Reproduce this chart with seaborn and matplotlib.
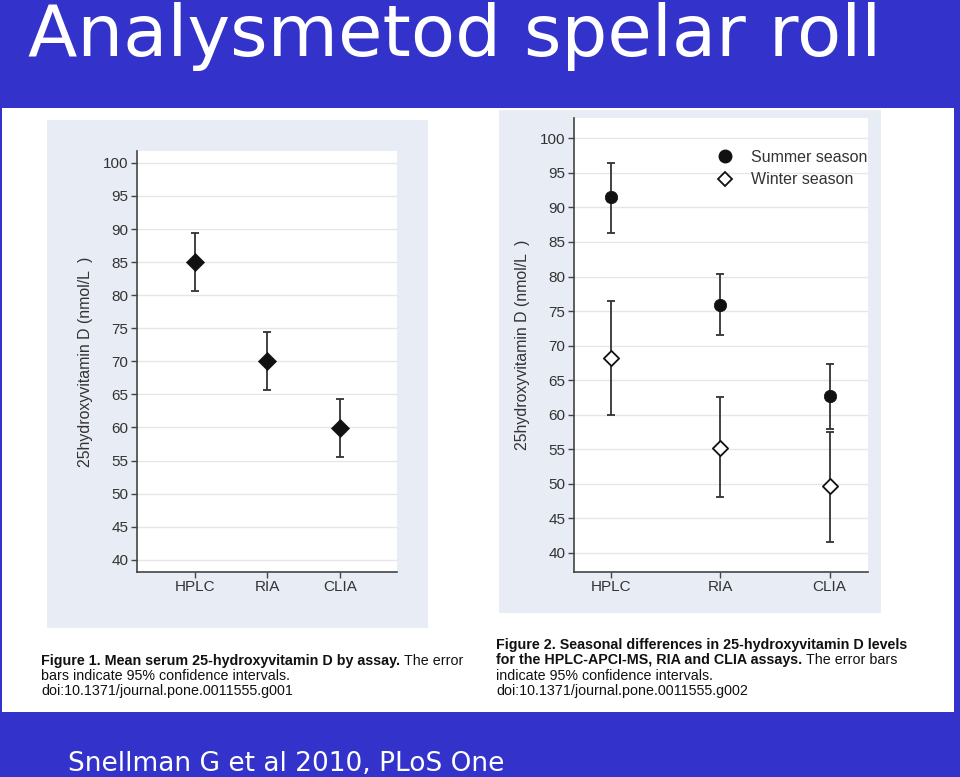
import matplotlib
matplotlib.use("Agg")
import matplotlib.pyplot as plt
from matplotlib import font_manager
from matplotlib.lines import Line2D
from matplotlib.patches import Rectangle
import seaborn as sns
import pandas as pd

# ---------------- data ----------------
assays = ["HPLC", "RIA", "CLIA"]
mean_all = [85.0, 70.0, 59.9]
ci_low_all = [80.6, 65.7, 55.5]
ci_high_all = [89.4, 74.4, 64.3]

summer_mean = [91.5, 75.9, 62.7]
summer_low = [86.3, 71.5, 57.9]
summer_high = [96.4, 80.3, 67.4]

winter_mean = [68.2, 55.1, 49.6]
winter_low = [60.0, 48.0, 41.5]
winter_high = [76.4, 62.5, 57.5]

y_ticks = [40, 45, 50, 55, 60, 65, 70, 75, 80, 85, 90, 95, 100]
ylabel = "25hydroxyvitamin D (nmol/L  )"
title = "Analysmetod spelar roll"
footer = "Snellman G et al 2010, PLoS One"

# ---------------- styling ----------------
sns.set_style("white")
names = {f.name for f in font_manager.fontManager.ttflist}
base_font = "Liberation Sans" if "Liberation Sans" in names else "DejaVu Sans"
narrow_font = "Liberation Sans Narrow" if "Liberation Sans Narrow" in names else base_font
plt.rcParams["font.family"] = [base_font, "DejaVu Sans"]

BLUE = "#3333cc"
PANEL = "#e8ecf4"
TXT = "#333333"
SPINE = "#444444"
GRID = "#e6e6e6"

W, H = 960, 777
fig = plt.figure(figsize=(W / 100, H / 100), dpi=100, facecolor=BLUE)


def fx(px):
    return px / W


def fy(py):
    return 1 - py / H


# white slide panel
fig.patches.append(Rectangle((fx(2), fy(712)), fx(954 - 2), (712 - 108) / H,
                             transform=fig.transFigure, facecolor="white",
                             edgecolor="none", zorder=-3))
# figure backgrounds
for (x0, y0, x1, y1) in [(47, 120, 428, 628), (499, 110, 881, 613)]:
    fig.patches.append(Rectangle((fx(x0), fy(y1)), fx(x1 - x0), (y1 - y0) / H,
                                 transform=fig.transFigure, facecolor=PANEL,
                                 edgecolor="none", zorder=-2))


def style_axes(ax, ylim, xlim):
    ax.set_facecolor("white")
    ax.set_ylim(*ylim)
    ax.set_xlim(*xlim)
    ax.set_yticks(y_ticks)
    ax.set_yticklabels([str(t) for t in y_ticks])
    ax.grid(axis="y", color=GRID, lw=1.0)
    ax.grid(axis="x", visible=False)
    ax.set_axisbelow(True)
    for s in ["top", "right"]:
        ax.spines[s].set_visible(False)
    for s in ["left", "bottom"]:
        ax.spines[s].set_color(SPINE)
        ax.spines[s].set_linewidth(1.2)
    ax.tick_params(axis="both", direction="out", length=4, width=1,
                   color=SPINE, labelsize=11, labelcolor=TXT, pad=2,
                   left=True, bottom=True)
    ax.set_xlabel("")
    ax.set_ylabel(ylabel, fontsize=11.4, color=TXT, labelpad=7)


# ---------------- left chart ----------------
ax1 = fig.add_axes([fx(136.7), fy(571.7), fx(397.3 - 136.7), (571.7 - 151) / H])
df1 = pd.DataFrame({"assay": assays, "mean": mean_all})
ax1.errorbar(assays, mean_all,
             yerr=[[m - l for m, l in zip(mean_all, ci_low_all)],
                   [h - m for m, h in zip(mean_all, ci_high_all)]],
             fmt="none", ecolor=TXT, elinewidth=1.3, capsize=2.8, capthick=1.3, zorder=2)
sns.scatterplot(data=df1, x="assay", y="mean", ax=ax1, marker="D", s=85,
                color="#111111", edgecolor="#111111", linewidth=0.5, zorder=3,
                legend=False)
style_axes(ax1, (38.2, 101.8), (-0.8, 2.79))
ax1.set_xticks(range(len(assays)))
ax1.set_xticklabels(assays)

# ---------------- right chart ----------------
ax2 = fig.add_axes([fx(573.7), fy(571.7), fx(867.7 - 573.7), (571.7 - 117.7) / H])
df_s = pd.DataFrame({"assay": assays, "mean": summer_mean})
df_w = pd.DataFrame({"assay": assays, "mean": winter_mean})
ax2.errorbar(assays, summer_mean,
             yerr=[[m - l for m, l in zip(summer_mean, summer_low)],
                   [h - m for m, h in zip(summer_mean, summer_high)]],
             fmt="none", ecolor=TXT, elinewidth=1.3, capsize=2.8, capthick=1.3, zorder=2)
ax2.errorbar(assays, winter_mean,
             yerr=[[m - l for m, l in zip(winter_mean, winter_low)],
                   [h - m for m, h in zip(winter_mean, winter_high)]],
             fmt="none", ecolor=TXT, elinewidth=1.3, capsize=2.8, capthick=1.3, zorder=2)
sns.scatterplot(data=df_s, x="assay", y="mean", ax=ax2, marker="o", s=80,
                color="#111111", edgecolor="#111111", linewidth=0.5, zorder=3,
                legend=False)
sns.scatterplot(data=df_w, x="assay", y="mean", ax=ax2, marker="D", s=60,
                color="white", edgecolor="#111111", linewidth=1.3, zorder=3,
                legend=False)
style_axes(ax2, (37.25, 103.0), (-0.345, 2.35))
ax2.set_xticks(range(len(assays)))
ax2.set_xticklabels(assays)

handles = [
    Line2D([], [], marker="o", ls="none", markersize=9, markerfacecolor="#111111",
           markeredgecolor="#111111"),
    Line2D([], [], marker="D", ls="none", markersize=7.5, markerfacecolor="white",
           markeredgecolor="#111111", markeredgewidth=1.3),
]
ax2.legend(handles, ["Summer season", "Winter season"], loc="upper left",
           bbox_to_anchor=(0.44, 0.944), frameon=False, fontsize=11.5,
           labelcolor=TXT, labelspacing=0.5, handletextpad=0.6,
           borderaxespad=0)

# ---------------- slide text ----------------
fig.text(fx(28), fy(56), title, fontsize=52, color="white", ha="left",
         va="baseline", family=["DejaVu Sans"])
fig.text(fx(68), fy(771), footer, fontsize=19, color="white", ha="left",
         va="baseline", family=["DejaVu Sans"])

# captions
fig.canvas.draw()
renderer = fig.canvas.get_renderer()
cap_size = 10.3
cap_kw = dict(fontsize=cap_size, color="#111111", ha="left", va="baseline",
              family=[narrow_font, base_font, "DejaVu Sans"])


def mixed_line(x, y, bold, regular):
    t = fig.text(fx(x), fy(y), bold, fontweight="bold", **cap_kw)
    if regular:
        bb = t.get_window_extent(renderer=renderer)
        fig.text(bb.x1 / W + fx(4), fy(y), regular, **cap_kw)


mixed_line(41, 665, "Figure 1. Mean serum 25-hydroxyvitamin D by assay.", "The error")
fig.text(fx(41), fy(680), "bars indicate 95% confidence intervals.", **cap_kw)
fig.text(fx(41), fy(695), "doi:10.1371/journal.pone.0011555.g001", **cap_kw)

mixed_line(496, 649, "Figure 2. Seasonal differences in 25-hydroxyvitamin D levels", "")
mixed_line(496, 664, "for the HPLC-APCI-MS, RIA and CLIA assays.", "The error bars")
fig.text(fx(496), fy(680), "indicate 95% confidence intervals.", **cap_kw)
fig.text(fx(496), fy(695), "doi:10.1371/journal.pone.0011555.g002", **cap_kw)

fig.savefig("out.png", dpi=100, facecolor=BLUE)
